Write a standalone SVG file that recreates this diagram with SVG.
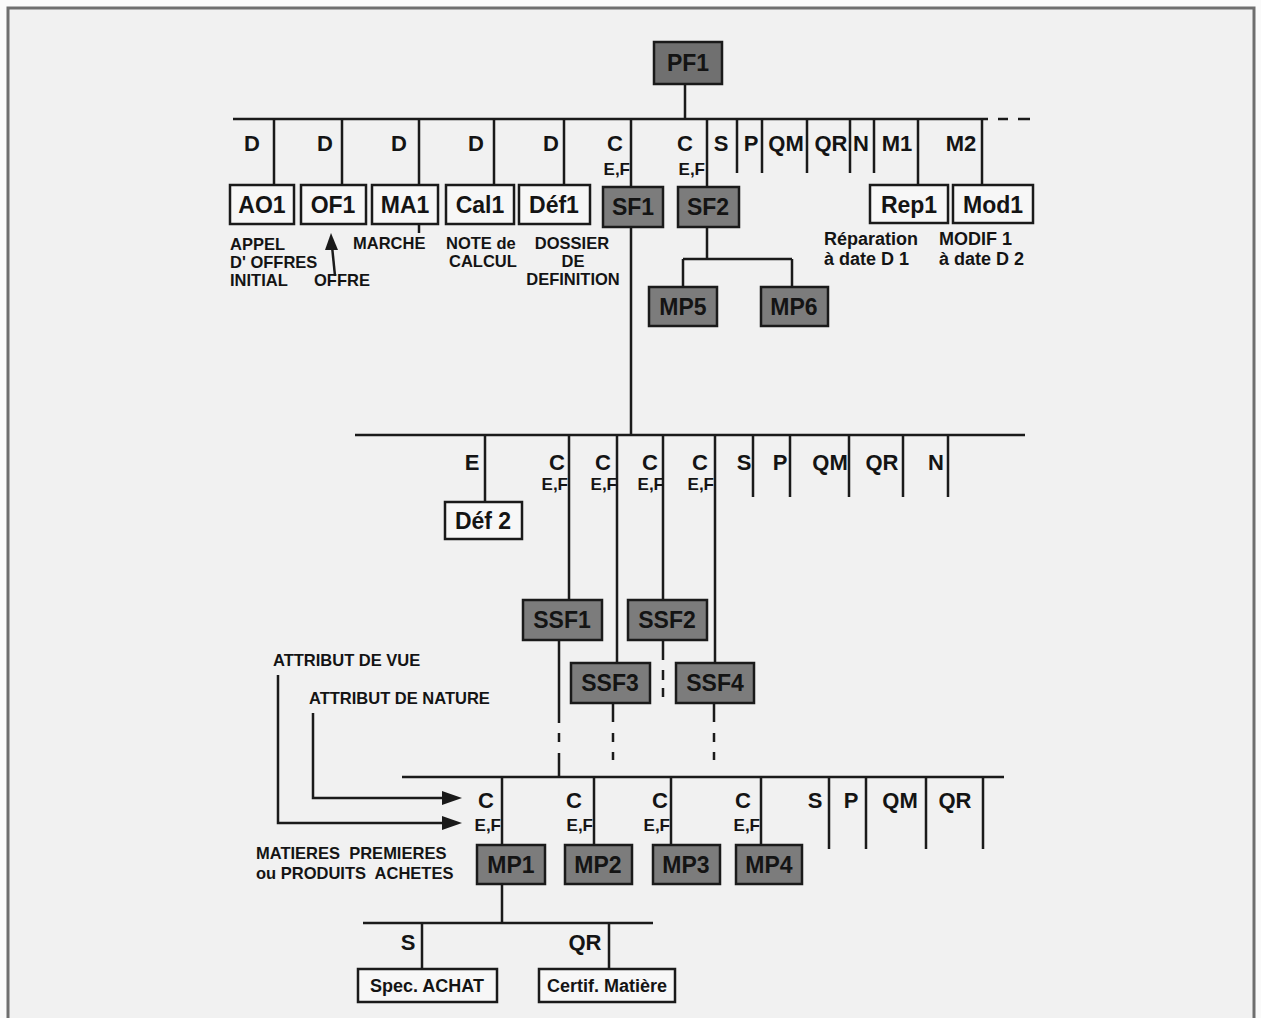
<svg xmlns="http://www.w3.org/2000/svg" width="1261" height="1018" viewBox="0 0 1261 1018">
<style>
text{font-family:"Liberation Sans",Arial,sans-serif;font-weight:bold;fill:#141414}
.bx{font-size:23px;text-anchor:middle}
.lb{font-size:22px;text-anchor:middle}
.ef{font-size:17px;text-anchor:end}
.ds{font-size:16.5px}
.dm{font-size:16.5px;text-anchor:middle}
.rp{font-size:18px}
.wn{fill:#f7f7f7;stroke:#1a1a1a;stroke-width:2.5}
.gn{fill:#7c7c7c;stroke:#1a1a1a;stroke-width:2.5}
.ln{stroke:#1a1a1a;stroke-width:2.5;fill:none}
.ar{fill:#1a1a1a}
</style>
<rect x="0" y="0" width="1261" height="1018" fill="#fafafa"/>
<rect x="8" y="8" width="1246" height="1030" fill="#f1f1f1" stroke="#6e6e6e" stroke-width="3"/>

<g id="connectors" class="ln">
  <path d="M685,84V119M233,119H988M998,119H1008M1018,119H1030"/>
  <path d="M274,119V185M342,119V185M419,119V185M494,119V185M564,119V185M631,119V187M707,119V187M918,119V185M982,119V185"/>
  <path d="M737,119V173M762,119V173M807,119V173M850,119V173M874,119V173"/>
  <path d="M419,224V233"/>
  <path d="M707,227V259M683,259H792M683,259V287M792,259V287"/>
  <path d="M631,227V435M355,435H1025"/>
  <path d="M485,435V502M569,435V600M617,435V663M663,435V600M715,435V663"/>
  <path d="M753,435V497M790,435V497M849,435V497M903,435V497M948,435V497"/>
  <path d="M559,640V723M559,733V742M559,753V777"/>
  <path d="M663,640V660M663,670V680M663,688V697"/>
  <path d="M613,703V722M613,733V742M613,752V760"/>
  <path d="M714,703V722M714,733V742M714,752V760"/>
  <path d="M402,777H1004M502,777V845M594,777V845M671,777V845M761,777V845"/>
  <path d="M829,777V849M866,777V849M926,777V849M983,777V849"/>
  <path d="M502,884V923M363,923H653M422,923V969M609,923V969"/>
  <path d="M278,675V823H444M313,713V798H444"/>
  <path d="M335,276L332,246"/>
  <polygon class="ar" points="462,823 442,816 442,830" stroke="none"/>
  <polygon class="ar" points="462,798 442,791 442,805" stroke="none"/>
  <polygon class="ar" points="331,233 325,250 338,250" stroke="none"/>
</g>

<g id="edge-labels">
  <text class="lb" x="252" y="151">D</text>
  <text class="lb" x="325" y="151">D</text>
  <text class="lb" x="399" y="151">D</text>
  <text class="lb" x="476" y="151">D</text>
  <text class="lb" x="551" y="151">D</text>
  <text class="lb" x="615" y="151">C</text>
  <text class="ef" x="630" y="175">E,F</text>
  <text class="lb" x="685" y="151">C</text>
  <text class="ef" x="705" y="175">E,F</text>
  <text class="lb" x="721" y="151">S</text>
  <text class="lb" x="751" y="151">P</text>
  <text class="lb" x="786" y="151">QM</text>
  <text class="lb" x="831" y="151">QR</text>
  <text class="lb" x="861" y="151">N</text>
  <text class="lb" x="897" y="151">M1</text>
  <text class="lb" x="961" y="151">M2</text>

  <text class="lb" x="472" y="470">E</text>
  <text class="lb" x="557" y="470">C</text>
  <text class="ef" x="568" y="490">E,F</text>
  <text class="lb" x="603" y="470">C</text>
  <text class="ef" x="617" y="490">E,F</text>
  <text class="lb" x="650" y="470">C</text>
  <text class="ef" x="664" y="490">E,F</text>
  <text class="lb" x="700" y="470">C</text>
  <text class="ef" x="714" y="490">E,F</text>
  <text class="lb" x="744" y="470">S</text>
  <text class="lb" x="780" y="470">P</text>
  <text class="lb" x="830" y="470">QM</text>
  <text class="lb" x="882" y="470">QR</text>
  <text class="lb" x="936" y="470">N</text>

  <text class="lb" x="486" y="808">C</text>
  <text class="ef" x="501" y="831">E,F</text>
  <text class="lb" x="574" y="808">C</text>
  <text class="ef" x="593" y="831">E,F</text>
  <text class="lb" x="660" y="808">C</text>
  <text class="ef" x="670" y="831">E,F</text>
  <text class="lb" x="743" y="808">C</text>
  <text class="ef" x="760" y="831">E,F</text>
  <text class="lb" x="815" y="808">S</text>
  <text class="lb" x="851" y="808">P</text>
  <text class="lb" x="900" y="808">QM</text>
  <text class="lb" x="955" y="808">QR</text>

  <text class="lb" x="408" y="950">S</text>
  <text class="lb" x="585" y="950">QR</text>
</g>

<g id="annotations">
  <text class="ds" x="230" y="250">APPEL</text>
  <text class="ds" x="230" y="268">D' OFFRES</text>
  <text class="ds" x="230" y="286">INITIAL</text>
  <text class="ds" x="314" y="286">OFFRE</text>
  <text class="ds" x="353" y="249">MARCHE</text>
  <text class="ds" x="446" y="249">NOTE de</text>
  <text class="ds" x="449" y="267">CALCUL</text>
  <text class="dm" x="572" y="249">DOSSIER</text>
  <text class="dm" x="573" y="267">DE</text>
  <text class="dm" x="573" y="285">DEFINITION</text>
  <text class="rp" x="824" y="245">Réparation</text>
  <text class="rp" x="824" y="265">à date D 1</text>
  <text class="rp" x="939" y="245">MODIF 1</text>
  <text class="rp" x="939" y="265">à date D 2</text>
  <text class="ds" x="273" y="666">ATTRIBUT DE VUE</text>
  <text class="ds" x="309" y="704">ATTRIBUT DE NATURE</text>
  <text class="ds" x="256" y="859" xml:space="preserve">MATIERES  PREMIERES</text>
  <text class="ds" x="256" y="879" xml:space="preserve">ou PRODUITS  ACHETES</text>
</g>

<g id="PF1"><rect class="gn" x="654" y="42" width="68" height="42" style="fill:#707070"/><text class="bx" x="688" y="71">PF1</text></g>
<g id="AO1"><rect class="wn" x="230" y="185" width="64" height="39"/><text class="bx" x="262" y="213">AO1</text></g>
<g id="OF1"><rect class="wn" x="301" y="185" width="65" height="39"/><text class="bx" x="333" y="213">OF1</text></g>
<g id="MA1"><rect class="wn" x="372" y="185" width="66" height="39"/><text class="bx" x="405" y="213">MA1</text></g>
<g id="Cal1"><rect class="wn" x="446" y="185" width="68" height="39"/><text class="bx" x="480" y="213">Cal1</text></g>
<g id="Def1"><rect class="wn" x="519" y="185" width="71" height="39"/><text class="bx" x="554" y="213">Déf1</text></g>
<g id="SF1"><rect class="gn" x="603" y="187" width="60" height="40"/><text class="bx" x="633" y="215">SF1</text></g>
<g id="SF2"><rect class="gn" x="678" y="187" width="61" height="40"/><text class="bx" x="708" y="215">SF2</text></g>
<g id="Rep1"><rect class="wn" x="870" y="185" width="78" height="38"/><text class="bx" x="909" y="213">Rep1</text></g>
<g id="Mod1"><rect class="wn" x="953" y="185" width="80" height="38"/><text class="bx" x="993" y="213">Mod1</text></g>
<g id="MP5"><rect class="gn" x="649" y="287" width="68" height="39"/><text class="bx" x="683" y="315">MP5</text></g>
<g id="MP6"><rect class="gn" x="761" y="287" width="67" height="39"/><text class="bx" x="794" y="315">MP6</text></g>
<g id="Def2"><rect class="wn" x="445" y="502" width="77" height="37"/><text class="bx" x="483" y="529">Déf 2</text></g>
<g id="SSF1"><rect class="gn" x="523" y="600" width="79" height="40"/><text class="bx" x="562" y="628">SSF1</text></g>
<g id="SSF2"><rect class="gn" x="628" y="600" width="79" height="40"/><text class="bx" x="667" y="628">SSF2</text></g>
<g id="SSF3"><rect class="gn" x="571" y="663" width="79" height="40"/><text class="bx" x="610" y="691">SSF3</text></g>
<g id="SSF4"><rect class="gn" x="676" y="663" width="78" height="40"/><text class="bx" x="715" y="691">SSF4</text></g>
<g id="MP1"><rect class="gn" x="477" y="845" width="68" height="39"/><text class="bx" x="511" y="873">MP1</text></g>
<g id="MP2"><rect class="gn" x="565" y="845" width="67" height="39"/><text class="bx" x="598" y="873">MP2</text></g>
<g id="MP3"><rect class="gn" x="653" y="845" width="67" height="39"/><text class="bx" x="686" y="873">MP3</text></g>
<g id="MP4"><rect class="gn" x="736" y="845" width="66" height="39"/><text class="bx" x="769" y="873">MP4</text></g>
<g id="SpecACHAT"><rect class="wn" x="358" y="969" width="139" height="33"/><text class="bx" x="427" y="992" style="font-size:18px">Spec. ACHAT</text></g>
<g id="CertifMatiere"><rect class="wn" x="539" y="969" width="136" height="33"/><text class="bx" x="607" y="992" style="font-size:18px">Certif. Matière</text></g>
</svg>
